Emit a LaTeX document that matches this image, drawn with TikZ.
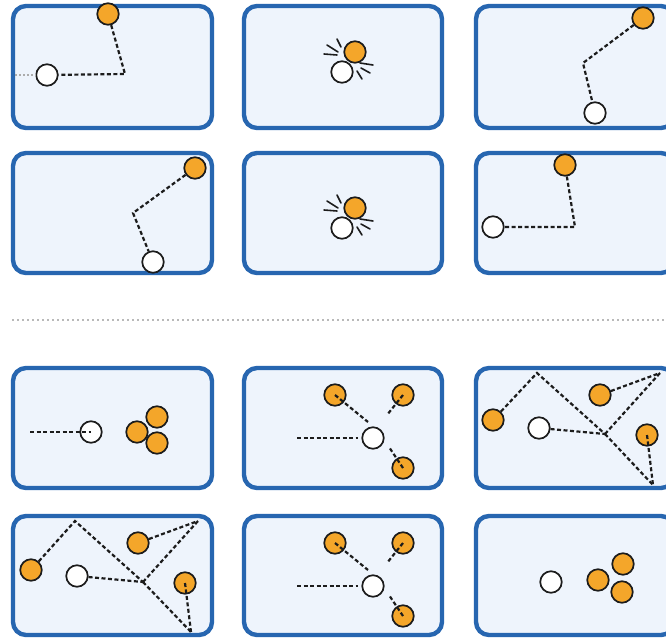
\documentclass[tikz,border=0pt]{standalone}
\definecolor{bordblue}{HTML}{2766B0}
\definecolor{panelfill}{HTML}{EEF4FC}
\definecolor{amber}{HTML}{F4A62A}
\definecolor{outl}{HTML}{1C1C1C}
\tikzset{
  panel/.style={draw=bordblue, line width=4.4pt, fill=panelfill, rounded corners=13pt},
  wb/.style={circle, draw=outl, line width=1.7pt, fill=white, minimum size=21.5pt, inner sep=0pt},
  ob/.style={wb, fill=amber},
  dl/.style={draw=outl, line width=2.2pt, dash pattern=on 4pt off 2.5pt},
  faint/.style={draw=gray!65, line width=1.4pt, dash pattern=on 2pt off 2pt},
  spark/.style={draw=outl, line width=1.6pt, line cap=round},
  sepline/.style={draw=gray!55, line width=1.3pt, dash pattern=on 1.5pt off 3.5pt}
}
\begin{document}
\begin{tikzpicture}[x=1pt,y=-1pt]
\useasboundingbox (0,0) rectangle (666,642);
\fill[white] (0,0) rectangle (666,642);
\clip (0,0) rectangle (666,642);

% panels
\draw[panel] (13,6) rectangle (212,128);
\draw[panel] (244,6) rectangle (442,128);
\draw[panel] (476,6) rectangle (674,128);
\draw[panel] (13,153) rectangle (212,273);
\draw[panel] (244,153) rectangle (442,273);
\draw[panel] (476,153) rectangle (674,273);
\draw[panel] (13,368) rectangle (212,488);
\draw[panel] (244,368) rectangle (442,488);
\draw[panel] (476,368) rectangle (674,488);
\draw[panel] (13,516) rectangle (212,635);
\draw[panel] (244,516) rectangle (442,635);
\draw[panel] (476,516) rectangle (674,635);

% separator
\coordinate (sepL) at (12,320);
\coordinate (sepR) at (666,320);
\draw[sepline] (sepL) -- (sepR);

% ---- box 1
\node[wb] (w1) at (47,75) {};
\node[ob] (o1) at (108,14) {};
\coordinate (c1) at (125,74);
\coordinate (e1) at (15,75);
\draw[faint] (e1) -- (w1);
\draw[dl] (o1) -- (c1) -- (w1);

% ---- box 2 (collision)
\node[wb] (w2) at (342,72) {};
\node[ob] (o2) at (355,52) {};
\draw[spark] (337,39) -- (341,47);
\draw[spark] (327,45) -- (338,52);
\draw[spark] (324,54) -- (337,55);
\draw[spark] (360,63) -- (373,65);
\draw[spark] (361,68) -- (370,73);
\draw[spark] (357,71) -- (362,79);

% ---- box 3
\node[ob] (o3) at (643,18) {};
\node[wb] (w3) at (595,113) {};
\coordinate (c3) at (583,63);
\draw[dl] (o3) -- (c3) -- (w3);

% ---- box 4
\node[ob] (o4) at (195,168) {};
\node[wb] (w4) at (153,262) {};
\coordinate (c4) at (133,213);
\draw[dl] (o4) -- (c4) -- (w4);

% ---- box 5 (collision)
\node[wb] (w5) at (342,228) {};
\node[ob] (o5) at (355,208) {};
\draw[spark] (337,195) -- (341,203);
\draw[spark] (327,201) -- (338,208);
\draw[spark] (324,210) -- (337,211);
\draw[spark] (360,219) -- (373,221);
\draw[spark] (361,224) -- (370,229);
\draw[spark] (357,227) -- (362,235);

% ---- box 6
\node[ob] (o6) at (565,165) {};
\node[wb] (w6) at (493,227) {};
\coordinate (c6) at (575,227);
\draw[dl] (o6) -- (c6) -- (w6);

% ---- box 7
\node[wb] (w7) at (91,432) {};
\node[ob] (o7a) at (137,432) {};
\node[ob] (o7b) at (157,417) {};
\node[ob] (o7c) at (157,443) {};
\coordinate (s7) at (30,432);
\draw[dl] (s7) -- (w7.center);

% ---- box 8
\node[wb] (w8) at (373,438) {};
\node[ob] (o8a) at (335,395) {};
\node[ob] (o8b) at (403,395) {};
\node[ob] (o8c) at (403,468) {};
\coordinate (s8) at (297,438);
\coordinate (t8) at (358,438);
\coordinate (a8) at (368,422);
\coordinate (b8) at (387,415);
\coordinate (d8) at (389,447);
\draw[dl] (s8) -- (t8);
\draw[dl] (o8a.center) -- (a8);
\draw[dl] (o8b.center) -- (b8);
\draw[dl] (o8c.center) -- (d8);

% ---- box 9
\node[ob] (ol9) at (493,420) {};
\node[ob] (ot9) at (600,395) {};
\node[ob] (or9) at (647,435) {};
\node[wb] (w9) at (539,428) {};
\coordinate (p9) at (537,373);
\coordinate (tr9) at (660,373);
\coordinate (j9) at (605,434);
\coordinate (br9) at (653,485);
\draw[dl] (ol9) -- (p9) -- (j9);
\draw[dl] (w9) -- (j9);
\draw[dl] (j9) -- (tr9);
\draw[dl] (ot9) -- (tr9);
\draw[dl] (j9) -- (br9);
\draw[dl] (or9.center) -- (br9);

% ---- box 10
\node[ob] (ol10) at (31,570) {};
\node[ob] (ot10) at (138,543) {};
\node[ob] (or10) at (185,583) {};
\node[wb] (w10) at (77,576) {};
\coordinate (p10) at (75,521);
\coordinate (tr10) at (198,521);
\coordinate (j10) at (143,582);
\coordinate (br10) at (191,632);
\draw[dl] (ol10) -- (p10) -- (j10);
\draw[dl] (w10) -- (j10);
\draw[dl] (j10) -- (tr10);
\draw[dl] (ot10) -- (tr10);
\draw[dl] (j10) -- (br10);
\draw[dl] (or10.center) -- (br10);

% ---- box 11
\node[wb] (w11) at (373,586) {};
\node[ob] (o11a) at (335,543) {};
\node[ob] (o11b) at (403,543) {};
\node[ob] (o11c) at (403,616) {};
\coordinate (s11) at (297,586);
\coordinate (t11) at (358,586);
\coordinate (a11) at (368,570);
\coordinate (b11) at (387,563);
\coordinate (d11) at (389,595);
\draw[dl] (s11) -- (t11);
\draw[dl] (o11a.center) -- (a11);
\draw[dl] (o11b.center) -- (b11);
\draw[dl] (o11c.center) -- (d11);

% ---- box 12
\node[wb] (w12) at (551,582) {};
\node[ob] (o12a) at (598,580) {};
\node[ob] (o12b) at (623,564) {};
\node[ob] (o12c) at (622,592) {};
\end{tikzpicture}
\end{document}
